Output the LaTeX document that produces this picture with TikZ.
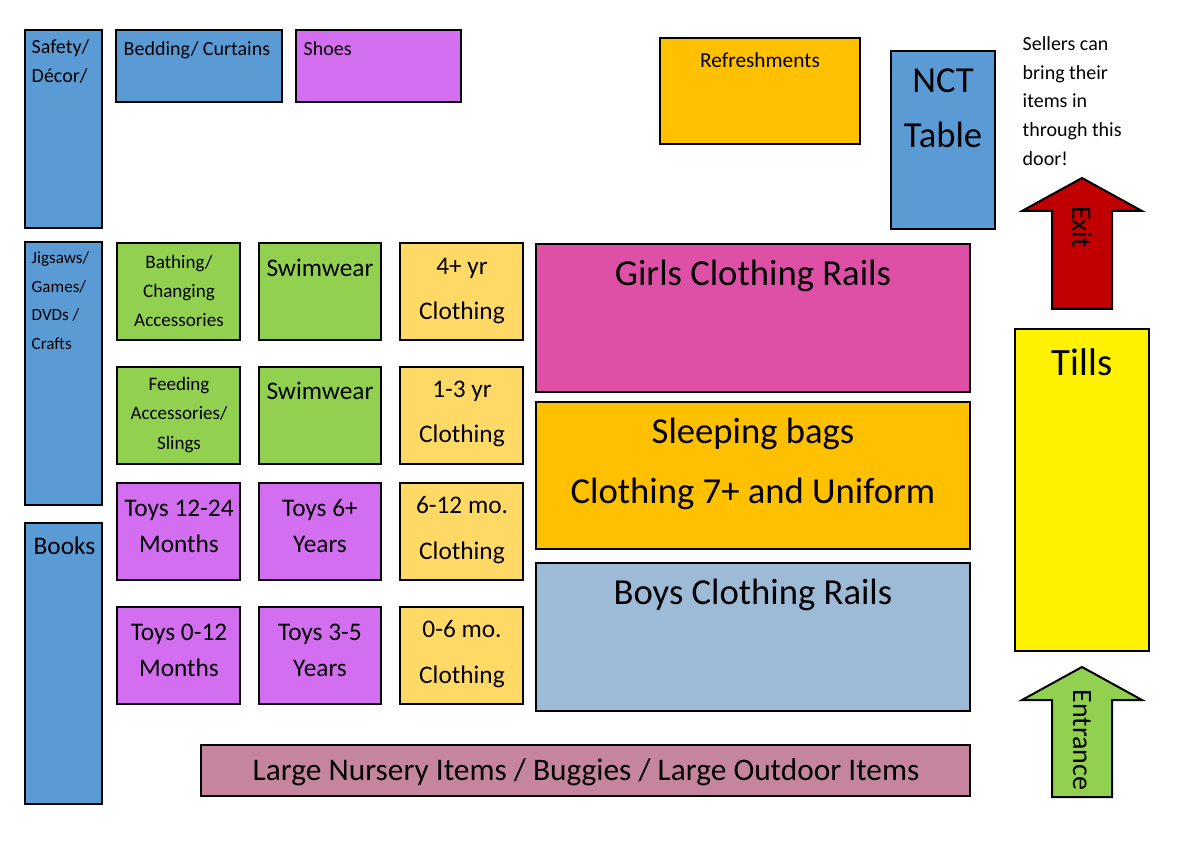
\documentclass[tikz,border=0pt]{standalone}
\usepackage{fontspec}
\setmainfont{Carlito}
\definecolor{cblue}{HTML}{5B9BD5}
\definecolor{cpurp}{HTML}{D46EF0}
\definecolor{cgreen}{HTML}{92D050}
\definecolor{corange}{HTML}{FFC000}
\definecolor{clyel}{HTML}{FFD966}
\definecolor{cpink}{HTML}{DE50A6}
\definecolor{cboys}{HTML}{9DBAD7}
\definecolor{cmauve}{HTML}{C5859F}
\definecolor{cred}{HTML}{C00000}
\begin{document}
\begin{tikzpicture}[x=0.75pt,y=-0.75pt,
  bx/.style={draw=black,line width=1.5pt},
  small/.style={font=\fontsize{15}{21.5}\selectfont,align=center},
  mid/.style={font=\fontsize{19}{27}\selectfont,align=center},
  big/.style={font=\fontsize{27.5}{45}\selectfont,align=center}]
\useasboundingbox (0,0) rectangle (1200,848);
\newcommand{\bx}[6]{\path[bx,fill=#6] (#2,#3) rectangle (#4,#5) coordinate (#1e); \coordinate (#1) at (#2,#3);}
% top row
\bx{sd}{25}{30}{102}{228}{cblue}
\node[small,anchor=north west,align=left,font=\fontsize{15}{21.5}\selectfont] (sdt) at (27,35) {Safety/\\Décor/};
\bx{bc}{116}{30}{282}{102}{cblue}
\node[small,anchor=north west] (bct) at (119,37) {Bedding/ Curtains};
\bx{sh}{296}{30}{461}{102}{cpurp}
\node[small,anchor=north west] (sht) at (299,37) {Shoes};
\bx{rf}{660}{38}{860}{144}{corange}
\node[small,font=\fontsize{16}{21}\selectfont] (rft) at (760,60) {Refreshments};
\bx{nct}{891}{51}{995}{229}{cblue}
\node[font=\fontsize{27.5}{41}\selectfont,align=center] (nctt) at (943,108) {NCT\\Table};
\node[small,anchor=north west,align=left] (sell) at (1018,32) {Sellers can\\bring their\\items in\\through this\\door!};
% arrows
\path[draw=black,line width=1.5pt,fill=cred] (1052,309) -- (1052,211) -- (1022,211) -- (1082,178) -- (1142,211) -- (1112,211) -- (1112,309) -- cycle;
\node[mid,font=\fontsize{21}{27}\selectfont,rotate=-90] (exit) at (1082,227) {Exit};
\path[draw=black,line width=1.5pt,fill=cgreen] (1052,797) -- (1052,700) -- (1022,700) -- (1082,667) -- (1142,700) -- (1112,700) -- (1112,797) -- cycle;
\node[mid,font=\fontsize{21}{27}\selectfont,rotate=-90] (ent) at (1082,740) {Entrance};
% left column
\bx{jg}{25}{242}{102}{505}{cblue}
\node[small,anchor=north west,align=left,font=\fontsize{12.8}{21.5}\selectfont] (jgt) at (27,247) {Jigsaws/\\Games/\\DVDs /\\Crafts};
\bx{bk}{25}{523}{102}{804}{cblue}
\node[mid,anchor=north west] (bkt) at (29,532) {Books};
% grid
\bx{ba}{117}{243}{240}{340}{cgreen}
\node[small,font=\fontsize{14.3}{22}\selectfont] (bat) at (179,291) {Bathing/\\Changing\\Accessories};
\bx{sw1}{259}{243}{381}{340}{cgreen}
\node[mid] (sw1t) at (320,268) {Swimwear};
\bx{c4}{400}{243}{523}{340}{clyel}
\node[mid,font=\fontsize{19}{34}\selectfont] (c4t) at (462,291) {4+ yr\\Clothing};
\bx{fd}{117}{367}{240}{464}{cgreen}
\node[small,font=\fontsize{14.3}{22}\selectfont] (fdt) at (179,415) {Feeding\\Accessories/\\Slings};
\bx{sw2}{259}{367}{381}{464}{cgreen}
\node[mid] (sw2t) at (320,391) {Swimwear};
\bx{c13}{400}{367}{523}{464}{clyel}
\node[mid,font=\fontsize{19}{34}\selectfont] (c13t) at (462,414) {1-3 yr\\Clothing};
\bx{t12}{117}{483}{240}{580}{cpurp}
\node[mid] (t12t) at (179,526) {Toys 12-24\\Months};
\bx{t6}{259}{483}{381}{580}{cpurp}
\node[mid] (t6t) at (320,526) {Toys 6+\\Years};
\bx{c612}{400}{483}{523}{580}{clyel}
\node[mid,font=\fontsize{19}{34}\selectfont] (c612t) at (462,530) {6-12 mo.\\Clothing};
\bx{t0}{117}{607}{240}{704}{cpurp}
\node[mid] (t0t) at (179,650) {Toys 0-12\\Months};
\bx{t3}{259}{607}{381}{704}{cpurp}
\node[mid] (t3t) at (320,650) {Toys 3-5\\Years};
\bx{c06}{400}{607}{523}{704}{clyel}
\node[mid,font=\fontsize{19}{34}\selectfont] (c06t) at (462,654) {0-6 mo.\\Clothing};
% rails
\bx{gr}{536}{244}{970}{392}{cpink}
\node[big] (grt) at (753,276) {Girls Clothing Rails};
\bx{sl}{536}{402}{970}{549}{corange}
\node[big] (slt) at (753,464) {Sleeping bags\\Clothing 7+ and Uniform};
\bx{by}{536}{563}{970}{711}{cboys}
\node[big] (byt) at (753,595) {Boys Clothing Rails};
\bx{ln}{201}{745}{970}{796}{cmauve}
\node[font=\fontsize{23.5}{28}\selectfont] (lnt) at (586,772) {Large Nursery Items / Buggies / Large Outdoor Items};
\bx{tl}{1015}{329}{1149}{651}{yellow}
\node[font=\fontsize{29}{34}\selectfont] (tlt) at (1082,362) {Tills};
\end{tikzpicture}
\end{document}
